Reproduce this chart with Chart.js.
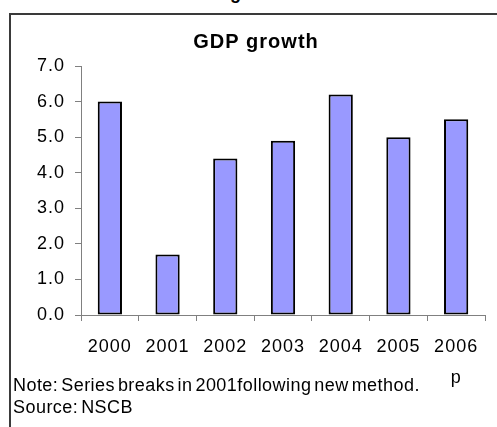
<!DOCTYPE html>
<html>
<head>
<meta charset="utf-8">
<script src="https://cdn.jsdelivr.net/npm/chart.js@4/dist/chart.umd.min.js"></script>
<style>
  html, body { margin: 0; padding: 0; background: #fff; overflow: hidden; }
  body { width: 497px; height: 427px; position: relative; font-family: Arial, "Liberation Sans", sans-serif; }
  .frame { position: absolute; left: 9px; top: 13px; width: 520px; height: 450px; border: 2px solid #3a3a3a; box-sizing: border-box; }
  .wrap { position: absolute; left: 0; top: 0; width: 497px; height: 427px; }
  .top-cut { position: absolute; left: 230px; top: -16px; font-size: 18px; line-height: 18px; font-weight: bold; color: #000; white-space: nowrap; }
  .note { position: absolute; left: 13px; font-size: 18px; line-height: 20px; color: #000; letter-spacing: 0.45px; word-spacing: -2.5px; white-space: nowrap; }
</style>
</head>
<body>
<div class="top-cut">growth</div>
<div class="frame"></div>
<div class="wrap"><canvas id="gdpChart" width="497" height="427"></canvas></div>
<div class="note" style="top:375px">Note: Series breaks in 2001following new method.</div>
<div class="note" style="top:397px">Source: NSCB</div>
<script>
const years = ["2000", "2001", "2002", "2003", "2004", "2005", ["2006", "p"]];
const growth = [6.0, 1.7, 4.4, 4.9, 6.2, 5.0, 5.5];
const yTicks = [0, 1, 2, 3, 4, 5, 6, 7];

const spacing = {
  id: "spacing",
  beforeDraw(chart) {
    chart.ctx.letterSpacing = "1px";
  },
};

const ctx = document.getElementById("gdpChart").getContext("2d");
new Chart(ctx, {
  type: "bar",
  data: {
    labels: years,
    datasets: [
      {
        label: "GDP growth",
        data: growth,
        backgroundColor: "#9999FF",
        borderColor: "#000",
        borderWidth: 2,
        borderSkipped: false,
        barPercentage: 0.42,
        categoryPercentage: 1,
      },
    ],
  },
  options: {
    responsive: false,
    animation: false,
    layout: { padding: { left: 27, right: 12, top: 0, bottom: 0 } },
    plugins: {
      legend: { display: false },
      tooltip: { enabled: false },
      title: {
        display: true,
        text: "GDP growth",
        color: "#000",
        font: { family: "Arial, 'Liberation Sans'", size: 20, weight: "bold" },
        padding: { top: 30, bottom: 12 },
      },
    },
    scales: {
      x: {
        offset: true,
        afterFit: (s) => { s.height = 112; },
        border: { color: "#808080", width: 1 },
        grid: { display: true, offset: true, drawOnChartArea: false, drawTicks: true, tickLength: 6, color: "#808080" },
        ticks: {
          color: "#000",
          font: { family: "Arial, 'Liberation Sans'", size: 18, lineHeight: 1.75 },
          padding: 10,
          maxRotation: 0,
          autoSkip: false,
        },
      },
      y: {
        min: 0,
        max: 7,
        afterFit: (s) => { s.width = 54; },
        afterBuildTicks: (s) => { s.ticks = yTicks.map((v) => ({ value: v })); },
        border: { color: "#808080", width: 1 },
        grid: { display: true, drawOnChartArea: false, drawTicks: true, tickLength: 6, color: "#808080" },
        ticks: {
          color: "#000",
          font: { family: "Arial, 'Liberation Sans'", size: 18 },
          padding: 10,
          callback: (v) => Number(v).toFixed(1),
        },
      },
    },
  },
  plugins: [spacing],
});
</script>
</body>
</html>
